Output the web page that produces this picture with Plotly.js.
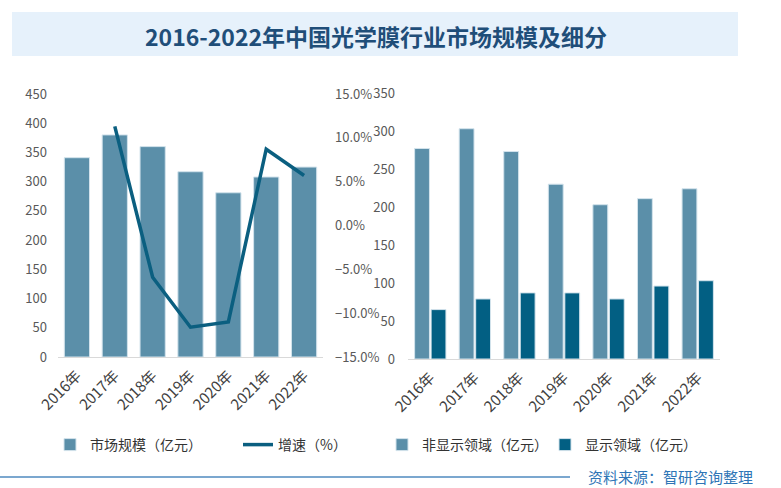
<!DOCTYPE html>
<html>
<head>
<meta charset="utf-8">
<script src="https://cdn.plot.ly/plotly-3.0.1.min.js"></script>
<style>
  html, body { margin: 0; padding: 0; background: #fff; }
  #chart { width: 781px; height: 488px; }
</style>
</head>
<body>
<div id="chart"></div>
<script>
  // 数据
  const years = ['2016年', '2017年', '2018年', '2019年', '2020年', '2021年', '2022年'];
  const marketSize = [341, 380, 360, 317, 281, 308, 325];          // 市场规模（亿元）
  const growthRate = [null, 11.3, -5.9, -11.6, -11.0, 8.7, 5.7];   // 增速（%）
  const nonDisplay = [277, 303, 273, 230, 203, 211, 224];          // 非显示领域（亿元）
  const display = [65, 79, 87, 87, 79, 96, 103];                   // 显示领域（亿元）

  const W = 781, H = 488;
  const px = v => v / W;
  const py = v => 1 - v / H;

  const FONT = '"Noto Sans CJK SC", "Noto Sans", sans-serif';
  const tickFont = { family: FONT, size: 13, color: '#595959' };
  const xTickFont = { family: FONT, size: 15, color: '#404040' };
  const lightBlue = '#5b8fa9';
  const darkBlue = '#025f83';

  const traces = [
    {
      type: 'bar', name: '市场规模（亿元）', x: years, y: marketSize,
      xaxis: 'x', yaxis: 'y', legend: 'legend',
      marker: { color: lightBlue, line: { color: '#d3e3ec', width: 1 } }
    },
    {
      type: 'scatter', mode: 'lines', name: '增速（%）', x: years, y: growthRate,
      xaxis: 'x', yaxis: 'y2', legend: 'legend',
      line: { color: '#0b5f80', width: 3.5 }
    },
    {
      type: 'bar', name: '非显示领域（亿元）', x: years, y: nonDisplay,
      xaxis: 'x2', yaxis: 'y3', legend: 'legend2',
      marker: { color: lightBlue, line: { color: '#d3e3ec', width: 1 } }
    },
    {
      type: 'bar', name: '显示领域（亿元）', x: years, y: display,
      xaxis: 'x2', yaxis: 'y3', legend: 'legend2',
      marker: { color: darkBlue, line: { color: '#d3e3ec', width: 1 } }
    }
  ];

  const xCommon = {
    type: 'category', tickangle: -45, tickfont: xTickFont,
    showline: true, linecolor: '#d9d9d9', linewidth: 1,
    ticks: '', showgrid: false, zeroline: false, automargin: false,
    ticklabelstandoff: 3, fixedrange: true
  };

  const layout = {
    width: W, height: H,
    margin: { l: 0, r: 0, t: 0, b: 0 },
    paper_bgcolor: '#fff', plot_bgcolor: 'rgba(0,0,0,0)',
    font: { family: FONT },
    barmode: 'group',
    bargap: 0.26, bargroupgap: 0.1,
    xaxis: Object.assign({}, xCommon, { domain: [px(58), px(323)], anchor: 'y' }),
    yaxis: {
      domain: [py(357), py(94)], anchor: 'x', range: [0, 450], dtick: 50,
      tickfont: tickFont, showgrid: false, zeroline: false, showline: false,
      ticklabelstandoff: 10, automargin: false
    },
    yaxis2: {
      overlaying: 'y', side: 'right', anchor: 'x', range: [-15, 15], dtick: 5,
      tickformat: '.1f', ticksuffix: '%', tickfont: tickFont,
      showgrid: false, zeroline: false, showline: false,
      ticklabelstandoff: 11, automargin: false
    },
    xaxis2: Object.assign({}, xCommon, { domain: [px(408), px(720)], anchor: 'y3' }),
    yaxis3: {
      domain: [py(359), py(93)], anchor: 'x2', range: [0, 350], dtick: 50,
      tickfont: tickFont, showgrid: false, zeroline: false, showline: false,
      ticklabelstandoff: 12, automargin: false
    },
    showlegend: true,
    legend: {
      orientation: 'h', x: px(50), xanchor: 'left', y: py(445), yanchor: 'middle',
      font: { family: FONT, size: 14, color: '#333333' }, traceorder: 'normal',
      itemwidth: 30, entrywidth: 143, bgcolor: 'rgba(0,0,0,0)'
    },
    legend2: {
      orientation: 'h', x: px(382), xanchor: 'left', y: py(445), yanchor: 'middle',
      font: { family: FONT, size: 14, color: '#333333' }, traceorder: 'normal',
      itemwidth: 30, entrywidth: 118, bgcolor: 'rgba(0,0,0,0)'
    },
    shapes: [
      {
        type: 'rect', xref: 'paper', yref: 'paper', layer: 'below',
        x0: px(12), x1: px(738), y0: py(56), y1: py(12),
        fillcolor: '#e6f1fb', line: { width: 0 }
      },
      {
        type: 'line', xref: 'paper', yref: 'paper',
        x0: 0, x1: px(570), y0: py(477), y1: py(477),
        line: { color: '#4f8abf', width: 1.5 }
      }
    ],
    annotations: [
      {
        text: '<b>2016-2022年中国光学膜行业市场规模及细分</b>',
        xref: 'paper', yref: 'paper', x: px(376), y: py(36),
        xanchor: 'center', yanchor: 'middle', showarrow: false,
        font: { family: FONT, size: 23, color: '#1f4e79' }
      },
      {
        text: '资料来源：智研咨询整理',
        xref: 'paper', yref: 'paper', x: px(587), y: py(476),
        xanchor: 'left', yanchor: 'middle', showarrow: false, borderpad: 0,
        font: { family: FONT, size: 15, color: '#2e75b6' }
      }
    ]
  };

  Plotly.newPlot('chart', traces, layout, { displayModeBar: false, staticPlot: true });
</script>
</body>
</html>
